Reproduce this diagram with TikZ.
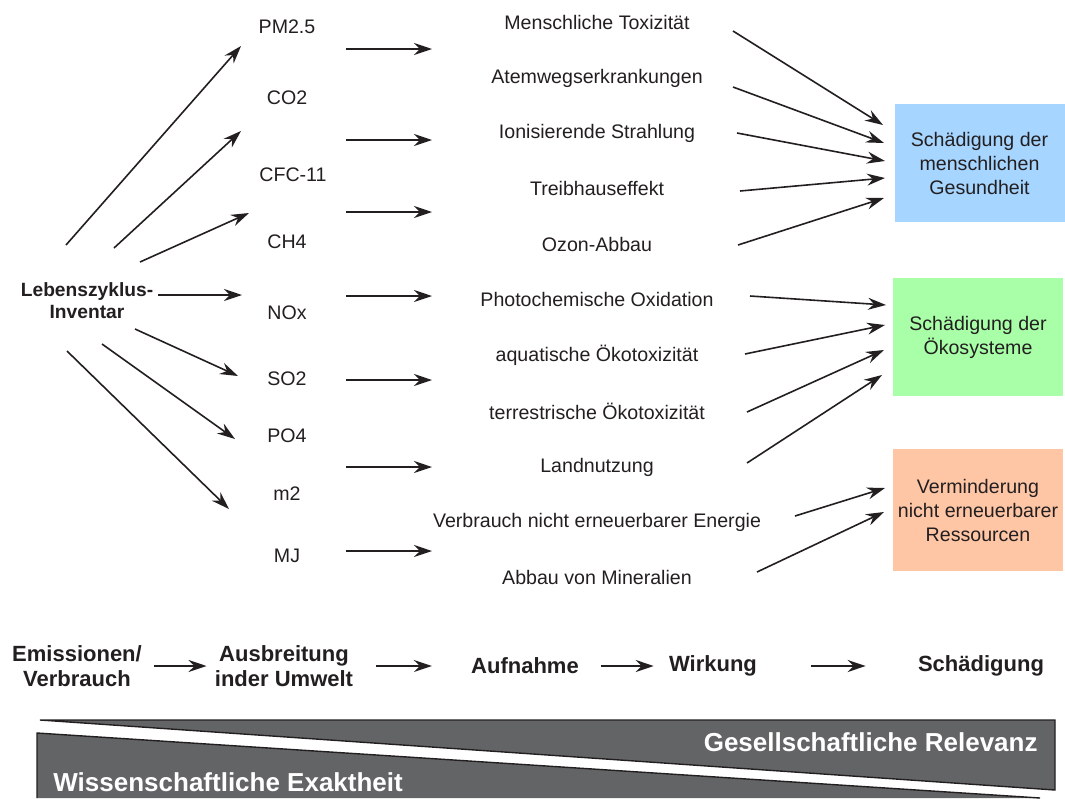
\documentclass[tikz,border=0pt]{standalone}
\usepackage{fontspec}
\setmainfont{Liberation Sans}
\usetikzlibrary{arrows.meta}
\definecolor{healthblue}{RGB}{166,213,255}
\definecolor{ecogreen}{RGB}{168,255,168}
\definecolor{resorange}{RGB}{255,198,166}
\definecolor{bandgray}{RGB}{99,100,102}
\definecolor{inkdark}{RGB}{35,31,32}
\tikzset{
  flow/.style={-{Stealth[length=9pt,width=6pt,inset=3pt]}, line width=0.8pt, draw=inkdark},
  stageflow/.style={flow, line width=1.1pt},
  label/.style={inner sep=0pt, text=inkdark, font=\fontsize{9.8}{11.5}\selectfont},
  damage/.style={inner sep=0pt, align=center, text=inkdark, font=\fontsize{9.8}{12}\selectfont,
    minimum width=85pt, minimum height=59pt},
  stage/.style={inner sep=0pt, align=center, text=inkdark, font=\bfseries\fontsize{11}{12.5}\selectfont},
  bandtext/.style={inner sep=0pt, text=white, font=\bfseries\fontsize{13}{15}\selectfont}
}
\begin{document}
\begin{tikzpicture}[x=0.5pt,y=-0.5pt]
\useasboundingbox (0,0) rectangle (1065,798);
% inventory
\node[label, align=center, font=\bfseries\fontsize{9.6}{11}\selectfont] (inventar) at (87,301) {Lebenszyklus-\\Inventar};
% emissions and resources
\node[label] (pm) at (287,27) {PM2.5};
\node[label] (co2) at (287,98) {CO2};
\node[label] (cfc) at (293,175) {CFC-11};
\node[label] (ch4) at (287,242) {CH4};
\node[label] (nox) at (287,313) {NOx};
\node[label] (so2) at (287,379) {SO2};
\node[label] (po4) at (287,436) {PO4};
\node[label] (m2) at (287,494) {m2};
\node[label] (mj) at (287,556) {MJ};
% impact categories
\node[label] (tox) at (597,22) {Menschliche Toxizität};
\node[label] (atem) at (597,78) {Atemwegserkrankungen};
\node[label] (ion) at (597,133) {Ionisierende Strahlung};
\node[label] (treib) at (597,188) {Treibhauseffekt};
\node[label] (ozon) at (597,244) {Ozon-Abbau};
\node[label] (photo) at (597,299) {Photochemische Oxidation};
\node[label] (aqua) at (597,355) {aquatische Ökotoxizität};
\node[label] (terr) at (597,411) {terrestrische Ökotoxizität};
\node[label] (land) at (597,467) {Landnutzung};
\node[label] (energ) at (597,522) {Verbrauch nicht erneuerbarer Energie};
\node[label] (miner) at (597,577) {Abbau von Mineralien};
% damage categories
\node[damage, fill=healthblue] (health) at (979.5,163) {Schädigung der\\menschlichen\\Gesundheit};
\node[damage, fill=ecogreen] (eco) at (978,337) {Schädigung der\\Ökosysteme};
\node[damage, fill=resorange, minimum height=61pt] (resources) at (978,510) {Verminderung\\nicht erneuerbarer\\Ressourcen};
% arrow ends
\coordinate (inv1) at (66,245);  \coordinate (em1) at (241,46);
\coordinate (inv2) at (114,248); \coordinate (em2) at (241,131);
\coordinate (inv3) at (140,262); \coordinate (em3) at (249,213);
\coordinate (inv4) at (158,295); \coordinate (em4) at (242,295);
\coordinate (inv5) at (135,329); \coordinate (em5) at (238,376);
\coordinate (inv6) at (102,344); \coordinate (em6) at (235,439);
\coordinate (inv7) at (67,351);  \coordinate (em7) at (229,509);
\coordinate (mid1s) at (346,49);  \coordinate (mid1e) at (432,49);
\coordinate (mid2s) at (346,140); \coordinate (mid2e) at (432,140);
\coordinate (mid3s) at (346,212); \coordinate (mid3e) at (432,212);
\coordinate (mid4s) at (346,296); \coordinate (mid4e) at (432,296);
\coordinate (mid5s) at (346,380); \coordinate (mid5e) at (432,380);
\coordinate (mid6s) at (346,467); \coordinate (mid6e) at (432,467);
\coordinate (mid7s) at (346,551); \coordinate (mid7e) at (432,551);
\coordinate (toxr) at (733,31);    \coordinate (hin1) at (883,125);
\coordinate (atemr) at (733,87);   \coordinate (hin2) at (884,143);
\coordinate (ionr) at (737,133);   \coordinate (hin3) at (885,161);
\coordinate (treibr) at (740,191); \coordinate (hin4) at (885,178);
\coordinate (ozonr) at (738,245);  \coordinate (hin5) at (884,198);
\coordinate (photor) at (750,296); \coordinate (ein1) at (886,305);
\coordinate (aquar) at (745,354);  \coordinate (ein2) at (885,325);
\coordinate (terrr) at (747,412);  \coordinate (ein3) at (884,350);
\coordinate (landr) at (747,463);  \coordinate (ein4) at (882,375);
\coordinate (energr) at (795,516); \coordinate (rin1) at (885,488);
\coordinate (minerr) at (757,572); \coordinate (rin2) at (884,512);
% arrows
\draw[flow] (inv1) -- (em1);
\draw[flow] (inv2) -- (em2);
\draw[flow] (inv3) -- (em3);
\draw[flow] (inv4) -- (em4);
\draw[flow] (inv5) -- (em5);
\draw[flow] (inv6) -- (em6);
\draw[flow] (inv7) -- (em7);
\draw[flow] (mid1s) -- (mid1e);
\draw[flow] (mid2s) -- (mid2e);
\draw[flow] (mid3s) -- (mid3e);
\draw[flow] (mid4s) -- (mid4e);
\draw[flow] (mid5s) -- (mid5e);
\draw[flow] (mid6s) -- (mid6e);
\draw[flow] (mid7s) -- (mid7e);
\draw[flow] (toxr) -- (hin1);
\draw[flow] (atemr) -- (hin2);
\draw[flow] (ionr) -- (hin3);
\draw[flow] (treibr) -- (hin4);
\draw[flow] (ozonr) -- (hin5);
\draw[flow] (photor) -- (ein1);
\draw[flow] (aquar) -- (ein2);
\draw[flow] (terrr) -- (ein3);
\draw[flow] (landr) -- (ein4);
\draw[flow] (energr) -- (rin1);
\draw[flow] (minerr) -- (rin2);
% cause-effect chain
\node[stage] (emis) at (77,666) {Emissionen/\\Verbrauch};
\node[stage] (ausb) at (284,666) {Ausbreitung\\inder Umwelt};
\node[stage] (aufn) at (525,666) {Aufnahme};
\node[stage] (wirk) at (713,666) {Wirkung};
\node[stage] (schad) at (981,666) {Schädigung};
\draw[stageflow, shorten <=6pt, shorten >=4pt] (emis) -- (ausb);
\draw[stageflow, shorten <=11.5pt, shorten >=19.5pt] (ausb) -- (aufn);
\draw[stageflow, shorten <=11pt, shorten >=7.5pt] (aufn) -- (wirk);
\draw[stageflow, shorten <=27pt, shorten >=26pt] (wirk) -- (schad);
% relevance / exactness band
\fill[bandgray] (40,720) -- (1055,720) -- (1055,790) -- cycle;
\draw[line width=0.7pt, inkdark] (40,720) -- (1055,720) -- (1055,790) -- cycle;
\fill[bandgray] (37,733) -- (1040,798) -- (37,798) -- cycle;
\draw[line width=0.7pt, inkdark] (37,798) -- (37,733) -- (1040,798);
\node[bandtext, anchor=east] (relevanz) at (1038,742) {Gesellschaftliche Relevanz};
\node[bandtext, anchor=west] (exakt) at (53,782) {Wissenschaftliche Exaktheit};
\end{tikzpicture}
\end{document}
